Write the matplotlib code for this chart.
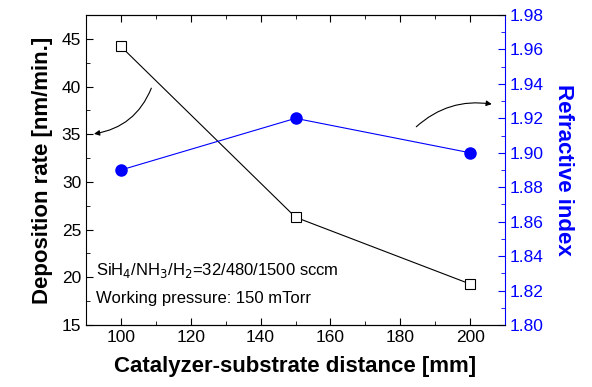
import matplotlib
matplotlib.use("Agg")
import matplotlib.pyplot as plt
from matplotlib.ticker import MultipleLocator

plt.rcParams['font.family'] = ['Liberation Sans', 'DejaVu Sans']

distance = [100, 150, 200]
dep_rate = [44.2, 26.3, 19.3]
ref_index = [1.89, 1.92, 1.90]

fig = plt.figure(figsize=(5.92, 3.87), dpi=100)
ax = fig.add_axes([86 / 592, 1 - 325 / 387, (505 - 86) / 592, (325 - 15) / 387])
ax2 = ax.twinx()

ax.plot(distance, dep_rate, color='black', lw=0.8, marker='s', ms=7,
        mfc='white', mec='black', mew=0.8)
ax2.plot(distance, ref_index, color='blue', lw=0.8, marker='o', ms=8,
         mfc='blue', mec='blue')

ax.set_xlim(90, 210)
ax.set_ylim(15, 47.5)
ax2.set_ylim(1.80, 1.98)

ax.xaxis.set_major_locator(MultipleLocator(20))
ax.xaxis.set_minor_locator(MultipleLocator(10))
ax.yaxis.set_major_locator(MultipleLocator(5))
ax.yaxis.set_minor_locator(MultipleLocator(2.5))
ax2.yaxis.set_major_locator(MultipleLocator(0.02))
ax2.yaxis.set_minor_locator(MultipleLocator(0.01))

ax.tick_params(which='both', direction='in', top=True, labelsize=12.5)
ax.tick_params(which='major', length=5)
ax.tick_params(which='minor', length=3)
ax2.tick_params(which='both', direction='in', colors='blue', labelsize=12.5)
ax2.tick_params(which='major', length=5)
ax2.tick_params(which='minor', length=3)
ax2.yaxis.set_major_formatter(matplotlib.ticker.FormatStrFormatter('%.2f'))
ax2.spines['right'].set_color('blue')
ax2.spines['left'].set_visible(False)
ax.spines['right'].set_visible(False)

ax.set_xlabel('Catalyzer-substrate distance [mm]', fontsize=16, fontweight='bold', labelpad=8)
ax.set_ylabel('Deposition rate [nm/min.]', fontsize=16, fontweight='bold', labelpad=6)
ax2.set_ylabel('Refractive index', fontsize=16, fontweight='bold', color='blue',
               rotation=270, labelpad=22)

ax.text(93, 20.7, r'SiH$_4$/NH$_3$/H$_2$=32/480/1500 sccm', fontsize=12, va='center')
ax.text(93, 17.8, 'Working pressure: 150 mTorr', fontsize=12, va='center')

# arrows pointing at the axes
ax.annotate('', xy=(91.5, 35.0), xytext=(109, 40.1),
            arrowprops=dict(arrowstyle='-|>', color='black', lw=0.8,
                            connectionstyle='arc3,rad=-0.3', mutation_scale=8))
ax2.annotate('', xy=(207, 1.928), xytext=(184, 1.914),
             arrowprops=dict(arrowstyle='-|>', color='black', lw=0.8,
                             connectionstyle='arc3,rad=-0.25', mutation_scale=8))

fig.savefig('out.png', dpi=100)
